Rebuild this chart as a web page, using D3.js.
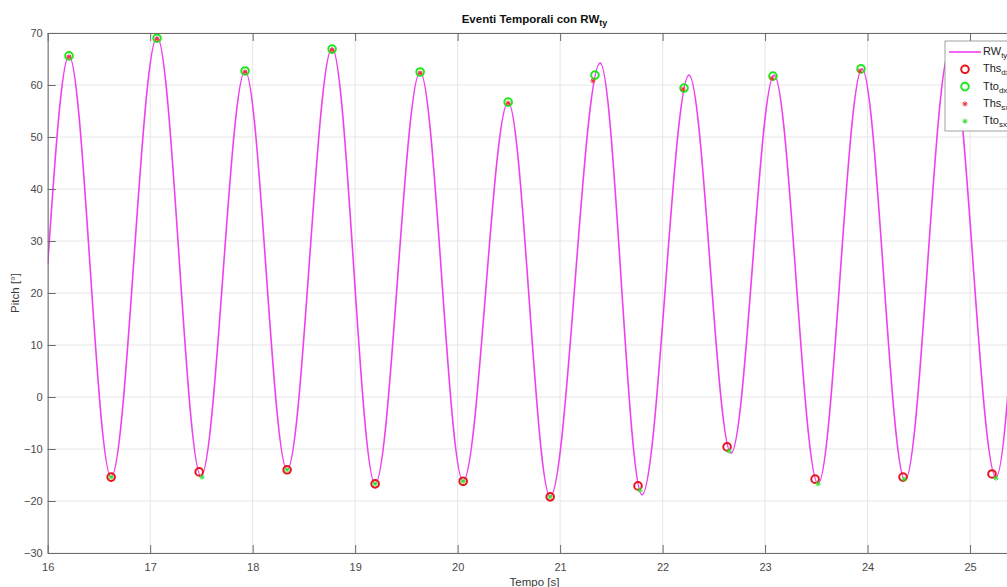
<!DOCTYPE html>
<html lang="it">
<head>
<meta charset="UTF-8">
<title>Eventi Temporali con RW_ty</title>
<script src="https://d3js.org/d3.v7.min.js"></script>
<style>
    body { margin: 0; background: #fff; }
    svg { display: block; font-family: "Liberation Sans", Arial, sans-serif; }
    .axis text { font-size: 11px; fill: #4a4a4a; }
    .axis path, .axis line { stroke: #6a6a6a; }
    .grid line { stroke: #e6e6e6; }
</style>
</head>
<body>
<svg id="chart"></svg>
<script>
// curve RW_ty: start, alternating peaks / troughs, end
const rwTime  = [16.0, 16.208, 16.619, 17.067, 17.496, 17.926, 18.336, 18.775, 19.195, 19.634, 20.054,
                 20.493, 20.903, 21.391, 21.799, 22.258, 22.668, 23.088, 23.517, 23.946, 24.366, 24.805, 25.253, 25.5];
const rwPitch = [25.5, 65.6, -15.4, 69.2, -15.2, 62.7, -14.0, 67.1, -16.7, 62.5, -16.2,
                 56.7, -19.2, 64.2, -18.8, 61.9, -10.8, 61.9, -16.7, 63.1, -16.0, 67.0, -15.4, 42.0];

// Ths dx (red circles, troughs)
const thsDxTime  = [16.619, 17.478, 18.336, 19.195, 20.054, 20.903, 21.760, 22.629, 23.488, 24.346, 25.214];
const thsDxPitch = [-15.4, -14.4, -14.0, -16.7, -16.2, -19.2, -17.1, -9.6, -15.8, -15.4, -14.8];

// Tto dx (green circles, peaks)
const ttoDxTime  = [16.208, 17.067, 17.926, 18.775, 19.634, 20.493, 21.340, 22.209, 23.077, 23.936, 24.800];
const ttoDxPitch = [65.6, 69.0, 62.7, 66.9, 62.5, 56.7, 61.9, 59.4, 61.7, 63.1, 66.5];

// Ths sx (red asterisks, peaks)
const thsSxTime  = [16.208, 17.067, 17.926, 18.775, 19.634, 20.493, 21.320, 22.199, 23.068, 23.926, 24.795];
const thsSxPitch = [65.4, 68.8, 62.5, 66.7, 62.3, 56.5, 60.8, 59.2, 61.3, 62.7, 66.2];

// Tto sx (green asterisks, troughs)
const ttoSxTime  = [16.619, 17.506, 18.336, 19.195, 20.054, 20.903, 21.779, 22.648, 23.517, 24.356, 25.253];
const ttoSxPitch = [-15.4, -15.4, -14.0, -16.7, -16.2, -19.2, -17.9, -10.4, -16.7, -15.8, -15.6];

const xTicks = [16, 17, 18, 19, 20, 21, 22, 23, 24, 25];
const yTicks = [-30, -20, -10, 0, 10, 20, 30, 40, 50, 60, 70];

const width = 1007, height = 587;
const plotL = 47.7, plotR = 1021.3, plotT = 33, plotB = 553;

const svg = d3.select("#chart").attr("width", width).attr("height", height);

const x = d3.scaleLinear().domain([16, 25.5]).range([plotL, plotR]);
const y = d3.scaleLinear().domain([-30, 70]).range([plotB, plotT]);

// grid
const grid = svg.append("g").attr("class", "grid");
grid.selectAll(".gx").data(xTicks).join("line")
    .attr("x1", d => x(d)).attr("x2", d => x(d))
    .attr("y1", plotT).attr("y2", plotB);
grid.selectAll(".gy").data(yTicks).join("line")
    .attr("x1", plotL).attr("x2", plotR)
    .attr("y1", d => y(d)).attr("y2", d => y(d));

// clip for data
svg.append("clipPath").attr("id", "plotClip")
    .append("rect").attr("x", plotL).attr("y", plotT)
    .attr("width", plotR - plotL).attr("height", plotB - plotT);

const plot = svg.append("g").attr("clip-path", "url(#plotClip)");

const rwData = rwTime.map((t, i) => ({t: t, v: rwPitch[i]}));
const line = d3.line().x(d => x(d.t)).y(d => y(d.v)).curve(d3.curveMonotoneX);

plot.append("path").datum(rwData)
    .attr("d", line)
    .attr("fill", "none")
    .attr("stroke", "#ee40ee")
    .attr("stroke-width", 1.6);

function asterisk(g, cx, cy, r, color) {
    const d = r * 0.707;
    const p = `M${cx - r},${cy}L${cx + r},${cy}M${cx},${cy - r}L${cx},${cy + r}` +
              `M${cx - d},${cy - d}L${cx + d},${cy + d}M${cx - d},${cy + d}L${cx + d},${cy - d}`;
    g.append("path").attr("d", p).attr("stroke", color).attr("stroke-width", 1).attr("fill", "none");
}

function circles(times, vals, color) {
    plot.append("g").selectAll("circle").data(times).join("circle")
        .attr("cx", d => x(d)).attr("cy", (d, i) => y(vals[i]))
        .attr("r", 3.8)
        .attr("fill", "none")
        .attr("stroke", color)
        .attr("stroke-width", 2);
}

function stars(times, vals, color) {
    const g = plot.append("g");
    times.forEach((t, i) => asterisk(g, x(t), y(vals[i]), 2.6, color));
}

circles(thsDxTime, thsDxPitch, "#e8141b");
circles(ttoDxTime, ttoDxPitch, "#1ee81e");
stars(thsSxTime, thsSxPitch, "#ee3030");
stars(ttoSxTime, ttoSxPitch, "#30e030");

// axes (ticks inward, box)
const axB = svg.append("g").attr("class", "axis").attr("transform", `translate(0,${plotB})`)
    .call(d3.axisBottom(x).tickValues(xTicks).tickSizeInner(-8).tickSizeOuter(0).tickPadding(8));
svg.append("g").attr("class", "axis").attr("transform", `translate(0,${plotT})`)
    .call(d3.axisTop(x).tickValues(xTicks).tickSizeInner(-8).tickSizeOuter(0).tickFormat(""));
svg.append("g").attr("class", "axis").attr("transform", `translate(${plotL},0)`)
    .call(d3.axisLeft(y).tickValues(yTicks).tickSizeInner(-8).tickSizeOuter(0).tickPadding(5));
svg.append("g").attr("class", "axis").attr("transform", `translate(${plotR},0)`)
    .call(d3.axisRight(y).tickValues(yTicks).tickSizeInner(-8).tickSizeOuter(0).tickFormat(""));
axB.selectAll("text").attr("dy", "0.9em");

// title
const title = svg.append("text")
    .attr("x", (plotL + plotR) / 2).attr("y", 23)
    .attr("text-anchor", "middle")
    .attr("font-size", 11.5).attr("font-weight", "bold").attr("fill", "#111");
title.append("tspan").text("Eventi Temporali con RW");
title.append("tspan").attr("dy", 3).attr("font-size", 9).text("ty");

// axis labels
svg.append("text")
    .attr("x", (plotL + plotR) / 2).attr("y", 586)
    .attr("text-anchor", "middle")
    .attr("font-size", 11.5).attr("fill", "#3a3a3a")
    .text("Tempo [s]");

svg.append("text")
    .attr("transform", `translate(19,${(plotT + plotB) / 2}) rotate(-90)`)
    .attr("text-anchor", "middle")
    .attr("font-size", 11.5).attr("fill", "#3a3a3a")
    .text("Pitch [°]");

// legend (cut by the right edge, as in the original figure)
const legend = svg.append("g").attr("transform", "translate(945,41)");
legend.append("rect")
    .attr("width", 76).attr("height", 90)
    .attr("fill", "#fff").attr("stroke", "#8a8a8a").attr("stroke-width", 0.8);

const legendItems = [
    {main: "RW",  sub: "ty"},
    {main: "Ths", sub: "dx"},
    {main: "Tto", sub: "dx"},
    {main: "Ths", sub: "sx"},
    {main: "Tto", sub: "sx"}
];
const rowY = i => 11 + i * 17.3;

legendItems.forEach((it, i) => {
    const t = legend.append("text")
        .attr("x", 38).attr("y", rowY(i) + 3)
        .attr("font-size", 11).attr("fill", "#222");
    t.append("tspan").text(it.main);
    t.append("tspan").attr("dy", 3).attr("font-size", 8).text(it.sub);
});

legend.append("line")
    .attr("x1", 4).attr("x2", 36).attr("y1", rowY(0)).attr("y2", rowY(0))
    .attr("stroke", "#ee40ee").attr("stroke-width", 1.6);
legend.append("circle").attr("cx", 20).attr("cy", rowY(1)).attr("r", 3.8)
    .attr("fill", "none").attr("stroke", "#e8141b").attr("stroke-width", 2);
legend.append("circle").attr("cx", 20).attr("cy", rowY(2)).attr("r", 3.8)
    .attr("fill", "none").attr("stroke", "#1ee81e").attr("stroke-width", 2);
asterisk(legend, 20, rowY(3), 2.6, "#ee3030");
asterisk(legend, 20, rowY(4), 2.6, "#30e030");
</script>
</body>
</html>
